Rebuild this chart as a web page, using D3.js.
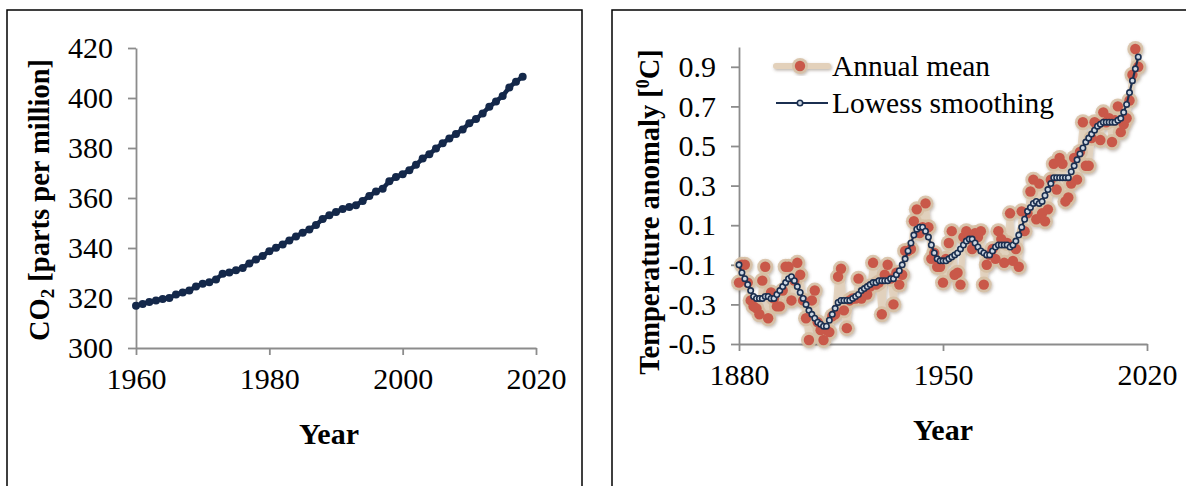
<!DOCTYPE html>
<html>
<head>
<meta charset="utf-8">
<script src="https://cdn.jsdelivr.net/npm/d3@7"></script>
<style>
  body { margin: 0; background: #fff; }
  svg { display: block; }
  svg text { font-family: "Liberation Serif", "Times New Roman", serif; }
</style>
</head>
<body>
<svg id="chart" width="1186" height="486"></svg>
<script>
// CO2, Mauna Loa annual means [ppm]
const co2Years = d3.range(1960, 2019);
const co2Values = [
  316.91, 317.64, 318.45, 318.99, 319.62, 320.04, 321.38, 322.16, 323.04, 324.62,
  325.68, 326.32, 327.45, 329.68, 330.18, 331.11, 332.04, 333.83, 335.40, 336.84,
  338.75, 340.11, 341.45, 343.05, 344.65, 346.12, 347.42, 349.19, 351.57, 353.12,
  354.39, 355.61, 356.45, 357.10, 358.83, 360.82, 362.61, 363.73, 366.70, 368.38,
  369.55, 371.14, 373.28, 375.80, 377.52, 379.80, 381.90, 383.79, 385.60, 387.43,
  389.90, 391.65, 393.85, 396.52, 398.65, 400.83, 404.24, 406.55, 408.52
];
const co2XTicks = [1960, 1980, 2000, 2020];
const co2YTicks = [300, 320, 340, 360, 380, 400, 420];

// global temperature anomaly [deg C]
const tempYears = d3.range(1880, 2018);
const tempAnnual = [
  -0.19, -0.10, -0.10, -0.19, -0.28, -0.31, -0.32, -0.35, -0.18, -0.11,
  -0.37, -0.24, -0.27, -0.31, -0.31, -0.23, -0.11, -0.11, -0.28, -0.18,
  -0.09, -0.15, -0.28, -0.37, -0.48, -0.28, -0.23, -0.39, -0.43, -0.48,
  -0.43, -0.44, -0.36, -0.35, -0.16, -0.12, -0.33, -0.42, -0.28, -0.27,
  -0.27, -0.17, -0.27, -0.24, -0.25, -0.21, -0.09, -0.20, -0.19, -0.35,
  -0.15, -0.10, -0.17, -0.30, -0.14, -0.20, -0.15, -0.03, -0.03, -0.02,
   0.12,  0.18,  0.06,  0.09,  0.21,  0.09, -0.07, -0.04, -0.11, -0.11,
  -0.19, -0.07,  0.01,  0.07, -0.15, -0.14, -0.20,  0.04,  0.07,  0.03,
  -0.02,  0.06,  0.04,  0.07, -0.20, -0.10, -0.05, -0.02, -0.07,  0.07,
   0.03, -0.09,  0.01,  0.16, -0.08, -0.02, -0.11,  0.17,  0.07,  0.16,
   0.27,  0.33,  0.13,  0.31,  0.16,  0.12,  0.18,  0.33,  0.41,  0.28,
   0.44,  0.41,  0.22,  0.24,  0.31,  0.44,  0.33,  0.47,  0.62,  0.40,
   0.40,  0.54,  0.62,  0.61,  0.53,  0.67,  0.62,  0.64,  0.52,  0.63,
   0.70,  0.57,  0.61,  0.64,  0.73,  0.86,  0.99,  0.90
];
const tempLowess = [
  -0.10, -0.14, -0.17, -0.20, -0.23, -0.26, -0.27, -0.27, -0.27, -0.26,
  -0.26, -0.27, -0.27, -0.25, -0.23, -0.21, -0.19, -0.17, -0.16, -0.18,
  -0.21, -0.24, -0.27, -0.30, -0.33, -0.35, -0.37, -0.39, -0.40, -0.41,
  -0.41, -0.38, -0.35, -0.32, -0.29, -0.28, -0.28, -0.28, -0.28, -0.27,
  -0.26, -0.25, -0.23, -0.22, -0.21, -0.20, -0.19, -0.19, -0.18, -0.18,
  -0.18, -0.18, -0.17, -0.17, -0.15, -0.13, -0.10, -0.07, -0.03,  0.01,
   0.05,  0.08,  0.09,  0.09,  0.07,  0.04,  0.00, -0.04, -0.07, -0.08,
  -0.08, -0.08, -0.07, -0.06, -0.05, -0.04, -0.02,  0.00,  0.02,  0.03,
   0.03,  0.01, -0.01, -0.03, -0.04, -0.05, -0.05, -0.03, -0.01,  0.00,
   0.00,  0.00,  0.00, -0.01,  0.00,  0.02,  0.05,  0.09,  0.13,  0.17,
   0.19,  0.21,  0.22,  0.21,  0.22,  0.25,  0.28,  0.31,  0.34,  0.34,
   0.34,  0.34,  0.34,  0.34,  0.37,  0.40,  0.43,  0.46,  0.49,  0.52,
   0.54,  0.56,  0.58,  0.60,  0.61,  0.62,  0.62,  0.62,  0.62,  0.62,
   0.63,  0.64,  0.67,  0.71,  0.77,  0.83,  0.89,  0.95
];
const tempXTicks = [1880, 1950, 2020];
const tempYTicks = [-0.5, -0.3, -0.1, 0.1, 0.3, 0.5, 0.7, 0.9];
const legendLabels = ["Annual mean", "Lowess smoothing"];

const svg = d3.select("#chart");
const axisColor = "#8c8c8c";
const navy = "#14284a";
const serif = '"Liberation Serif", "Times New Roman", serif';

// panel frames
svg.append("rect").attr("x", 7).attr("y", 10).attr("width", 575).attr("height", 490)
  .attr("fill", "none").attr("stroke", "#000").attr("stroke-width", 1.5);
svg.append("rect").attr("x", 612).attr("y", 10).attr("width", 600).attr("height", 490)
  .attr("fill", "none").attr("stroke", "#000").attr("stroke-width", 1.5);

function styleAxis(g) {
  g.attr("font-family", null).attr("font-size", null);
  g.select(".domain").attr("stroke", axisColor).attr("stroke-width", 1.8);
  g.selectAll(".tick line").attr("stroke", axisColor).attr("stroke-width", 1.8);
  g.selectAll(".tick text").attr("fill", "#000")
    .style("font-family", serif).style("font-size", "30px");
}

// ---------- left: CO2 ----------
const x1 = d3.scaleLinear().domain([1960, 2020]).range([136, 536]);
const y1 = d3.scaleLinear().domain([300, 420]).range([348, 48]);

svg.append("g").attr("transform", "translate(0,348)")
  .call(d3.axisBottom(x1).tickValues(co2XTicks).tickFormat(d3.format("d")).tickSize(7).tickSizeOuter(0).tickPadding(13))
  .call(styleAxis);
svg.append("g").attr("transform", "translate(136,0)")
  .call(d3.axisLeft(y1).tickValues(co2YTicks).tickFormat(d3.format("d")).tickSize(8).tickSizeOuter(0).tickPadding(15))
  .call(styleAxis);

const co2 = co2Years.map((yr, i) => ({ x: yr, y: co2Values[i] }));
svg.append("path").datum(co2)
  .attr("fill", "none").attr("stroke", navy).attr("stroke-width", 4.5)
  .attr("d", d3.line().x(d => x1(d.x)).y(d => y1(d.y)));
svg.append("g").selectAll("circle").data(co2).join("circle")
  .attr("cx", d => x1(d.x)).attr("cy", d => y1(d.y)).attr("r", 4).attr("fill", navy);

svg.append("text").attr("x", 329).attr("y", 444).attr("text-anchor", "middle")
  .style("font-size", "30px").attr("font-weight", "bold").text("Year");
const t1 = svg.append("text").attr("transform", "translate(49,200) rotate(-90)")
  .attr("text-anchor", "middle").style("font-size", "28.5px").attr("font-weight", "bold");
t1.append("tspan").text("CO");
t1.append("tspan").style("font-size", "19px").attr("baseline-shift", "-25%").text("2");
t1.append("tspan").text(" [parts per million]");

// ---------- right: temperature ----------
const x2 = d3.scaleLinear().domain([1880, 2020]).range([739, 1147]);
const y2 = d3.scaleLinear().domain([-0.5, 1.0]).range([344, 47]);

svg.append("g").attr("transform", "translate(0,344)")
  .call(d3.axisBottom(x2).tickValues(tempXTicks).tickFormat(d3.format("d")).tickSize(7).tickSizeOuter(0).tickPadding(13))
  .call(styleAxis);
svg.append("g").attr("transform", "translate(739,0)")
  .call(d3.axisLeft(y2).tickValues(tempYTicks).tickFormat(d => d3.format(".1f")(d).replace("−", "-")).tickSize(8).tickSizeOuter(0).tickPadding(15))
  .call(styleAxis);

const defs = svg.append("defs");
const shadow = defs.append("filter").attr("id", "shadow")
  .attr("x", "-10%").attr("y", "-10%").attr("width", "120%").attr("height", "120%");
shadow.append("feDropShadow").attr("dx", 1).attr("dy", 1.5).attr("stdDeviation", 1.5)
  .attr("flood-color", "#6f5c48").attr("flood-opacity", 0.45);

const annual = tempYears.map((yr, i) => ({ x: yr, y: tempAnnual[i] }));
const lowess = tempYears.map((yr, i) => ({ x: yr, y: tempLowess[i] }));
const line2 = d3.line().x(d => x2(d.x)).y(d => y2(d.y));

const annualColors = { line: "#e3d1bb", halo: "#d6bea2", dot: "#c9594a" };
const lowessColors = { line: "#1b2f50", fill: "#cfd8e2" };

const ga = svg.append("g").attr("filter", "url(#shadow)");
ga.append("path").datum(annual).attr("fill", "none")
  .attr("stroke", annualColors.line).attr("stroke-width", 6).attr("stroke-opacity", 0.85)
  .attr("stroke-linejoin", "round").attr("d", line2);
ga.append("g").selectAll("circle").data(annual).join("circle")
  .attr("cx", d => x2(d.x)).attr("cy", d => y2(d.y)).attr("r", 8)
  .attr("fill", annualColors.halo).attr("fill-opacity", 0.85);
ga.append("g").selectAll("circle").data(annual).join("circle")
  .attr("cx", d => x2(d.x)).attr("cy", d => y2(d.y)).attr("r", 5.2)
  .attr("fill", annualColors.dot);

svg.append("path").datum(lowess).attr("fill", "none")
  .attr("stroke", lowessColors.line).attr("stroke-width", 2.2).attr("d", line2);
svg.append("g").selectAll("circle").data(lowess).join("circle")
  .attr("cx", d => x2(d.x)).attr("cy", d => y2(d.y)).attr("r", 2.7)
  .attr("fill", lowessColors.fill).attr("stroke", lowessColors.line).attr("stroke-width", 1.6);

// legend
const lg = svg.append("g");
const lgA = lg.append("g").attr("filter", "url(#shadow)");
lgA.append("line").attr("x1", 776).attr("x2", 828).attr("y1", 66).attr("y2", 66)
  .attr("stroke", annualColors.line).attr("stroke-width", 6).attr("stroke-linecap", "round");
lgA.append("circle").attr("cx", 800).attr("cy", 66).attr("r", 8).attr("fill", annualColors.halo).attr("fill-opacity", 0.85);
lgA.append("circle").attr("cx", 800).attr("cy", 66).attr("r", 5.2).attr("fill", annualColors.dot);
lg.append("line").attr("x1", 776).attr("x2", 828).attr("y1", 103).attr("y2", 103)
  .attr("stroke", lowessColors.line).attr("stroke-width", 2.2);
lg.append("circle").attr("cx", 800).attr("cy", 103).attr("r", 2.7)
  .attr("fill", lowessColors.fill).attr("stroke", lowessColors.line).attr("stroke-width", 1.6);
lg.selectAll("text").data(legendLabels).join("text")
  .attr("x", 832).attr("y", (d, i) => 66 + i * 37).attr("dy", "0.35em")
  .style("font-size", "29.5px").text(d => d);

svg.append("text").attr("x", 943).attr("y", 440).attr("text-anchor", "middle")
  .style("font-size", "30px").attr("font-weight", "bold").text("Year");
const t2 = svg.append("text").attr("transform", "translate(659,212) rotate(-90)")
  .attr("text-anchor", "middle").style("font-size", "28.5px").attr("font-weight", "bold");
t2.append("tspan").text("Temperature anomaly [");
t2.append("tspan").style("font-size", "18px").attr("baseline-shift", "super").text("0");
t2.append("tspan").text("C]");
</script>
</body>
</html>
